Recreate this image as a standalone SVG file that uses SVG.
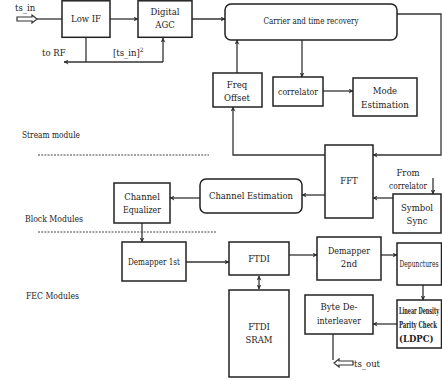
<svg xmlns="http://www.w3.org/2000/svg" width="442" height="381" viewBox="0 0 442 381">
<defs>
<style>
.box{fill:#fff;stroke:#222;stroke-width:1.5}
.ln{fill:none;stroke:#333;stroke-width:1.3}
.dash{fill:none;stroke:#444;stroke-width:1;stroke-dasharray:2,1.2}
.t{font-family:"DejaVu Serif","Liberation Serif",serif;font-size:8.5px;fill:#222}
.c{text-anchor:middle}
.b{font-weight:bold}
.hollow{fill:#fff;stroke:#333;stroke-width:1.2}
</style>
<marker id="ah" viewBox="0 0 10 10" refX="9" refY="5" markerWidth="5" markerHeight="5" orient="auto-start-reverse" markerUnits="userSpaceOnUse">
<path d="M0,0 L10,5 L0,10 L3,5 Z" fill="#333"/>
</marker>
</defs>
<rect width="442" height="381" fill="#fff"/>

<g id="connectors">
<polygon class="hollow" points="17,17 32,17 32,15 37,19 32,23 32,21 17,21"/>
<line class="ln" x1="37" y1="19" x2="62" y2="19"/>
<line class="ln" x1="110" y1="19" x2="138" y2="19" marker-end="url(#ah)"/>
<path class="ln" d="M86,37 V62"/>
<path class="ln" d="M163,62 H64" marker-end="url(#ah)"/>
<path class="ln" d="M163,62 V38" marker-end="url(#ah)"/>
<line class="ln" x1="192" y1="19" x2="225" y2="19" marker-end="url(#ah)"/>
<path class="ln" d="M397,14 H441 V155 H373" marker-end="url(#ah)"/>
<line class="ln" x1="237" y1="73" x2="237" y2="40" marker-end="url(#ah)"/>
<line class="ln" x1="302" y1="40" x2="302" y2="77" marker-end="url(#ah)"/>
<line class="ln" x1="323" y1="91" x2="353" y2="91" marker-end="url(#ah)"/>
<path class="ln" d="M325,155 H233 V107" marker-end="url(#ah)"/>
<line class="ln" x1="393" y1="198" x2="373" y2="198" marker-end="url(#ah)"/>
<line class="ln" x1="433" y1="178" x2="433" y2="194" marker-end="url(#ah)"/>
<line class="ln" x1="325" y1="195" x2="302" y2="195" marker-end="url(#ah)"/>
<line class="ln" x1="200" y1="198" x2="170" y2="198" marker-end="url(#ah)"/>
<line class="ln" x1="142" y1="223" x2="142" y2="242" marker-end="url(#ah)"/>
<line class="ln" x1="186" y1="262" x2="229" y2="262" marker-end="url(#ah)"/>
<line class="ln" x1="259" y1="276" x2="259" y2="289" marker-start="url(#ah)" marker-end="url(#ah)"/>
<line class="ln" x1="289" y1="255" x2="317" y2="255" marker-end="url(#ah)"/>
<line class="ln" x1="381" y1="255" x2="397" y2="255" marker-end="url(#ah)"/>
<line class="ln" x1="423" y1="285" x2="423" y2="300" marker-end="url(#ah)"/>
<line class="ln" x1="397" y1="324" x2="373" y2="324" marker-end="url(#ah)"/>
<path class="ln" d="M333,334 V360"/>
<polygon class="hollow" points="334,363 339,359 339,361 353,361 353,365 339,365 339,367"/>
</g>

<g id="lowif"><rect class="box" x="62" y="0.8" width="48" height="36.5"/><text class="t c" x="86" y="22">Low IF</text></g>
<g id="agc"><rect class="box" x="138" y="0.8" width="54" height="36.5"/><text class="t c" x="165" y="15">Digital</text><text class="t c" x="165" y="28">AGC</text></g>
<g id="carrier"><rect class="box" x="225" y="4" width="172" height="36" rx="6"/><text class="t c" x="311" y="24" textLength="95" lengthAdjust="spacingAndGlyphs">Carrier and time recovery</text></g>
<g id="freqoffset"><rect class="box" x="213" y="73" width="49" height="34"/><text class="t c" x="237" y="88">Freq</text><text class="t c" x="237" y="101">Offset</text></g>
<g id="correlator"><rect class="box" x="273" y="77" width="50" height="29"/><text class="t c" x="298" y="95" textLength="40" lengthAdjust="spacingAndGlyphs">correlator</text></g>
<g id="mode"><rect class="box" x="353" y="78" width="64" height="38"/><text class="t c" x="385" y="94">Mode</text><text class="t c" x="385" y="108" textLength="48" lengthAdjust="spacingAndGlyphs">Estimation</text></g>
<g id="fft"><rect class="box" x="325" y="145" width="48" height="73"/><text class="t c" x="349" y="184">FFT</text></g>
<g id="symsync"><rect class="box" x="393" y="194" width="48" height="39"/><text class="t c" x="417" y="211">Symbol</text><text class="t c" x="417" y="224">Sync</text></g>
<g id="fromcorr"><text class="t c" x="408" y="176">From</text><text class="t c" x="408" y="189" textLength="38" lengthAdjust="spacingAndGlyphs">correlator</text></g>
<g id="chest"><rect class="box" x="200" y="179" width="102" height="34" rx="6"/><text class="t c" x="251" y="199" textLength="84" lengthAdjust="spacingAndGlyphs">Channel Estimation</text></g>
<g id="cheq"><rect class="box" x="114" y="183" width="56" height="40"/><text class="t c" x="142" y="200">Channel</text><text class="t c" x="142" y="213" textLength="38" lengthAdjust="spacingAndGlyphs">Equalizer</text></g>
<g id="demap1"><rect class="box" x="122" y="242" width="64" height="39"/><text class="t c" x="154" y="265" textLength="52" lengthAdjust="spacingAndGlyphs">Demapper 1st</text></g>
<g id="ftdi"><rect class="box" x="229" y="242" width="60" height="33"/><text class="t c" x="259" y="262">FTDI</text></g>
<g id="sram"><rect class="box" x="229" y="290" width="60" height="87"/><text class="t c" x="259" y="330">FTDI</text><text class="t c" x="259" y="343">SRAM</text></g>
<g id="demap2"><rect class="box" x="317" y="237" width="64" height="43"/><text class="t c" x="349" y="254" textLength="42" lengthAdjust="spacingAndGlyphs">Demapper</text><text class="t c" x="349" y="267">2nd</text></g>
<g id="depunct"><rect class="box" x="397" y="243" width="44.5" height="42"/><text class="t" x="399.5" y="267" textLength="39" lengthAdjust="spacingAndGlyphs">Depunctures</text></g>
<g id="ldpc"><rect class="box" x="397" y="300" width="44.5" height="48"/><text class="t b" x="399" y="314" textLength="40" lengthAdjust="spacingAndGlyphs">Linear Density</text><text class="t b" x="399" y="328" textLength="38" lengthAdjust="spacingAndGlyphs">Parity Check</text><text class="t b" x="399" y="342">(LDPC)</text></g>
<g id="bytedeint"><rect class="box" x="305" y="295" width="68" height="39"/><text class="t c" x="339" y="310">Byte De-</text><text class="t c" x="339" y="324" textLength="44" lengthAdjust="spacingAndGlyphs">interleaver</text></g>

<g id="labels">
<text class="t" x="15" y="11">ts_in</text>
<text class="t" x="42" y="56">to RF</text>
<text class="t" x="113" y="56">[ts_in]<tspan font-size="6" dy="-4">2</tspan></text>
<text class="t" x="354" y="367">ts_out</text>
<text class="t" x="22" y="138" textLength="58" lengthAdjust="spacingAndGlyphs">Stream module</text>
<text class="t" x="25" y="222" textLength="58" lengthAdjust="spacingAndGlyphs">Block Modules</text>
<text class="t" x="26" y="299" textLength="53" lengthAdjust="spacingAndGlyphs">FEC Modules</text>
<line class="dash" x1="38" y1="155" x2="209" y2="155"/>
<line class="dash" x1="38" y1="232" x2="217" y2="232"/>
</g>
</svg>
